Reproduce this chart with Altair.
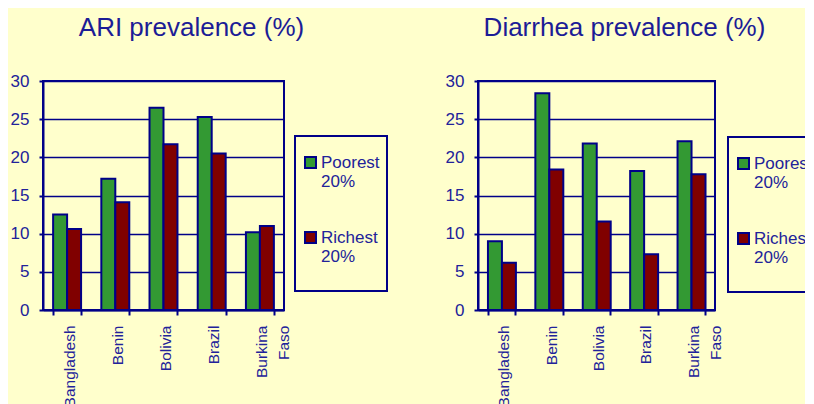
import altair as alt
import pandas as pd

countries = ["Bangladesh", "Benin", "Bolivia", "Brazil", "Burkina Faso"]
groups = ["Poorest 20%", "Richest 20%"]
ari_poorest = [12.5, 17.2, 26.5, 25.3, 10.2]
ari_richest = [10.6, 14.1, 21.7, 20.5, 11.0]
dia_poorest = [9.0, 28.4, 21.8, 18.2, 22.1]
dia_richest = [6.2, 18.4, 11.6, 7.3, 17.8]
y_ticks = [0, 5, 10, 15, 20, 25, 30]
bar_colors = ["#339933", "#800000"]
titles = ["ARI prevalence (%)", "Diarrhea prevalence (%)"]

NAVY = "#000088"
TXT = "#22229a"
TITLE_C = "#1c1c96"
FONT = "Liberation Sans"
BG = "#FFFFCC"


def frame(p, r):
    rows = []
    for c, a, b in zip(countries, p, r):
        rows.append({"country": c, "group": groups[0], "value": a})
        rows.append({"country": c, "group": groups[1], "value": b})
    return pd.DataFrame(rows)


# two-line legend labels; the last entry gets an extra blank line for bottom room
LEGEND_LABEL = (
    "datum.index > 0 ? [split(datum.label, ' ')[0], split(datum.label, ' ')[1], '']"
    " : split(datum.label, ' ')"
)


def panel(df, title, w, h, lx, ly):
    return alt.Chart(df).mark_bar(stroke=NAVY, strokeWidth=2).encode(
        x=alt.X(
            "country:N", sort=countries,
            scale=alt.Scale(paddingInner=0.42, paddingOuter=0.21),
            axis=alt.Axis(
                title=None, labelAngle=-90, labelAlign="right", labelBaseline="middle",
                labelExpr="split(datum.label, ' ')", tickBand="extent", tickSize=5,
                labelPadding=10, labelLineHeight=22, labelFontSize=15.5, grid=False,
                labelOffset=2, labelColor=TXT, labelFont=FONT,
                domainColor=NAVY, domainWidth=2, tickColor=NAVY, tickWidth=2,
            ),
        ),
        xOffset=alt.XOffset("group:N", sort=groups),
        y=alt.Y(
            "value:Q", scale=alt.Scale(domain=[0, 30], nice=False),
            axis=alt.Axis(
                title=None, values=y_ticks, tickSize=4, labelPadding=10, labelFontSize=17,
                labelColor=TXT, labelFont=FONT, grid=True, gridColor=NAVY, gridWidth=1.3,
                domainColor=NAVY, domainWidth=2, tickColor=NAVY, tickWidth=2,
            ),
        ),
        color=alt.Color(
            "group:N", sort=groups,
            scale=alt.Scale(domain=groups, range=bar_colors),
            legend=alt.Legend(
                title=" ", titleFontSize=9, titlePadding=2,
                orient="none", legendX=lx, legendY=ly,
                strokeColor=NAVY, padding=7, rowPadding=38,
                symbolType="square", symbolSize=121, symbolStrokeColor=NAVY,
                symbolStrokeWidth=2, symbolOpacity=1,
                labelExpr=LEGEND_LABEL,
                labelFontSize=17, labelColor=TXT,
                labelFont=FONT, labelOffset=2, labelBaseline="middle",
            ),
        ),
    ).properties(
        width=w, height=h,
        title=alt.TitleParams(
            title, fontSize=26, font=FONT, color=TITLE_C, fontWeight="normal",
            anchor="middle", frame="group", baseline="alphabetic", offset=10, dx=28,
        ),
    )


left = panel(frame(ari_poorest, ari_richest), titles[0], 241, 229, 252, 55)
right = panel(frame(dia_poorest, dia_richest), titles[1], 237, 229, 250, 56)

chart = alt.hconcat(left, right, spacing=194, bounds="flush").resolve_scale(
    color="independent"
).configure(
    background=BG, padding={"left": 1, "top": 6, "right": -17, "bottom": 0}
).configure_view(stroke=NAVY, strokeWidth=2).configure_legend(strokeWidth=2)

chart.save("out.html", embed_options={"renderer": "svg", "actions": False})
